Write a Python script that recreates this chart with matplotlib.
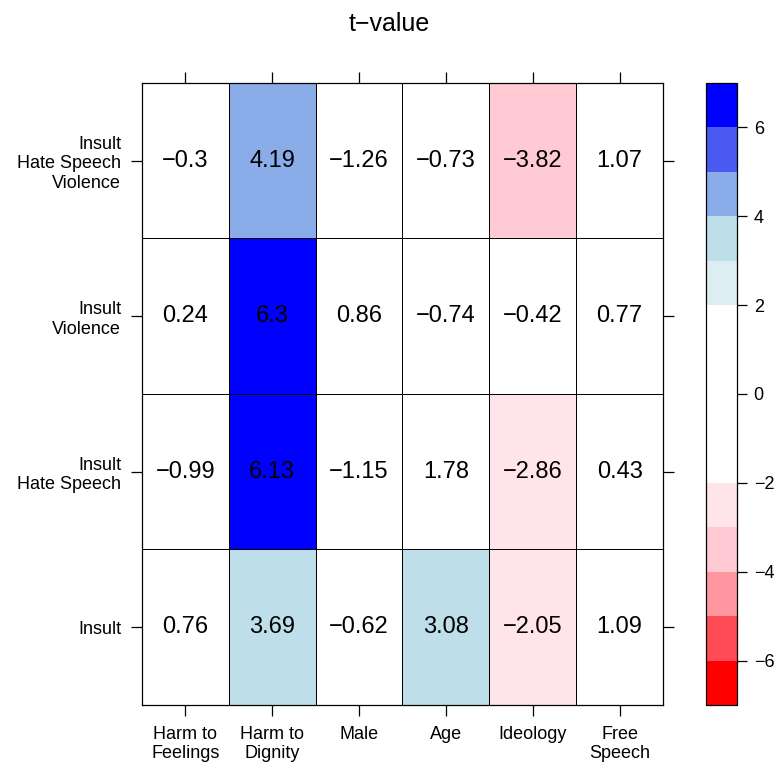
import numpy as np
import matplotlib
matplotlib.use("Agg")
import matplotlib.pyplot as plt
from matplotlib.colors import ListedColormap, BoundaryNorm

plt.rcParams['font.family'] = ['Liberation Sans', 'DejaVu Sans']

columns = ['Harm to\nFeelings', 'Harm to\nDignity', 'Male', 'Age', 'Ideology', 'Free\nSpeech']
rows = ['Insult', 'Insult\nHate Speech', 'Insult\nViolence', 'Insult\nHate Speech\nViolence']

# t-values, rows listed bottom to top
insult = [0.76, 3.69, -0.62, 3.08, -2.05, 1.09]
insult_hate = [-0.99, 6.13, -1.15, 1.78, -2.86, 0.43]
insult_violence = [0.24, 6.3, 0.86, -0.74, -0.42, 0.77]
insult_hate_violence = [-0.3, 4.19, -1.26, -0.73, -3.82, 1.07]

levels = np.arange(-7, 8, 1)
level_colors = ['#FF0000', '#FF4B55', '#FF96A0', '#FFCAD3', '#FFE4E9',
                'white', 'white', 'white', 'white',
                '#DCEEF2', '#BEDEE9', '#8AACE8', '#4A5AF0', '#0000FF']

t = np.array([insult, insult_hate, insult_violence, insult_hate_violence])

cmap = ListedColormap(level_colors)
norm = BoundaryNorm(levels, cmap.N)

fig = plt.figure(figsize=(7.78, 7.69), dpi=100)
ax = fig.add_axes([0.1825, 0.0832, 0.6697, 0.8090])
cax = fig.add_axes([0.9075, 0.0832, 0.0398, 0.8090])

mesh = ax.pcolormesh(np.arange(len(columns) + 1), np.arange(len(rows) + 1), t,
                     cmap=cmap, norm=norm, edgecolors='black', linewidth=0.7)

for i in range(t.shape[0]):
    for j in range(t.shape[1]):
        label = ('%g' % t[i, j]).replace('-', '\u2212')
        ax.text(j + 0.5, i + 0.5, label, ha='center', va='center', fontsize=17)

ax.set_xlim(0, len(columns))
ax.set_ylim(0, len(rows))
ax.set_xticks(np.arange(len(columns)) + 0.5)
ax.set_xticklabels(columns, fontsize=13, linespacing=1.2)
ax.set_yticks(np.arange(len(rows)) + 0.5)
ax.set_yticklabels(rows, fontsize=13, linespacing=1.2)
for lab in ax.get_yticklabels():
    lab.set_multialignment('right')
ax.tick_params(top=True, right=True, length=8, width=0.9, pad=7, direction='out')
for sp in ax.spines.values():
    sp.set_linewidth(0.9)

cb = fig.colorbar(mesh, cax=cax, ticks=[-6, -4, -2, 0, 2, 4, 6])
cb.ax.minorticks_off()
cb.ax.tick_params(labelsize=13, length=7, width=0.9, pad=5)
cb.outline.set_linewidth(0.9)

fig.suptitle('t\u2212value', fontsize=18, y=0.985)

fig.savefig('out.png', dpi=100)
